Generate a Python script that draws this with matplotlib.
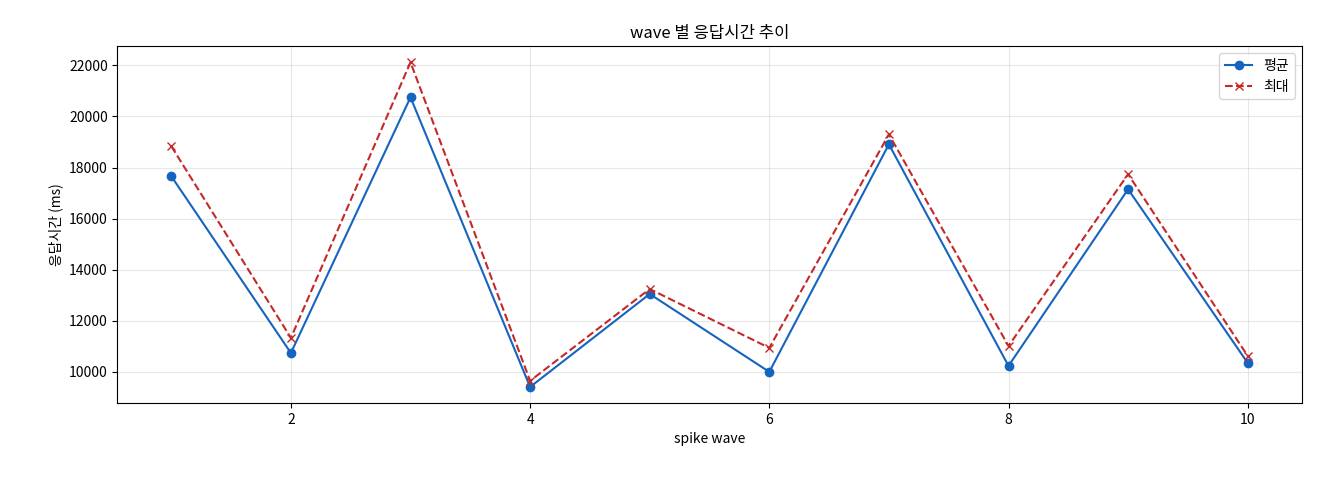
import matplotlib
matplotlib.use("Agg")
import matplotlib.pyplot as plt

plt.rcParams['font.family'] = ['Noto Sans CJK KR', 'DejaVu Sans']

# Data
waves = [1, 2, 3, 4, 5, 6, 7, 8, 9, 10]
avg_ms = [17660, 10740, 20750, 9410, 13050, 10000, 18910, 10235, 17150, 10350]
max_ms = [18835, 11330, 22120, 9650, 13245, 10940, 19300, 11015, 17740, 10625]

fig, ax = plt.subplots(figsize=(13.2, 4.8), dpi=100)
fig.subplots_adjust(left=0.089, right=0.986, top=0.904, bottom=0.16)

ax.plot(waves, avg_ms, color="#1565C0", marker="o", label="평균")
ax.plot(waves, max_ms, color="#C62828", marker="x", linestyle="--", label="최대")

ax.set_title("wave 별 응답시간 추이")
ax.set_xlabel("spike wave")
ax.set_ylabel("응답시간 (ms)")
ax.grid(True, alpha=0.3)
ax.legend(loc="upper right")

fig.savefig("out.png")
